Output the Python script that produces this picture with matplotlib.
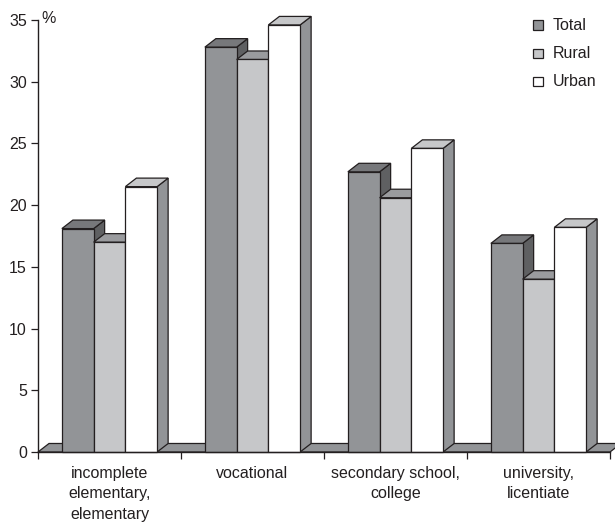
import matplotlib
matplotlib.use("Agg")
import matplotlib.pyplot as plt
from matplotlib.patches import Polygon, Rectangle

# Share of respondents by education level (%)
categories = ["incomplete\nelementary,\nelementary", "vocational",
              "secondary school,\ncollege", "university,\nlicentiate"]
series_names = ["Total", "Rural", "Urban"]
total = [18.1, 32.8, 22.7, 16.9]
rural = [17.0, 31.8, 20.6, 14.0]
urban = [21.5, 34.6, 24.6, 18.2]
yticks = [0, 5, 10, 15, 20, 25, 30, 35]

series_values = [total, rural, urban]
# (front, top, side) shades for each series
shades = [("#929497", "#77787b", "#5f6062"),
          ("#c6c7c9", "#9a9b9e", "#929497"),
          ("#ffffff", "#c6c7c9", "#929497")]
edge = "#231f20"
fs = 11.5

plt.rcParams["font.family"] = ["Liberation Sans", "DejaVu Sans"]

fig = plt.figure(figsize=(6.15, 5.23), dpi=100)
ax = fig.add_axes([38 / 615, 71 / 523, 572 / 615, 432 / 523])
ax.set_xlim(0, len(categories))
ax.set_ylim(0, 35)

# pseudo-3D depth offsets in data units
ddx = 0.077
ddy = 0.69
bar_w = 0.222

# floor slab
floor = Polygon([(0, 0), (ddx, ddy), (len(categories) + ddx, ddy), (len(categories), 0)],
                closed=True, facecolor="#929497", edgecolor=edge, lw=0.9, clip_on=False, zorder=2)
ax.add_patch(floor)

for i in range(len(categories)):
    x0 = i + 0.5 - 1.5 * bar_w
    for s, vals in enumerate(series_values):
        h = vals[i]
        xl = x0 + s * bar_w
        xr = xl + bar_w
        front_c, top_c, side_c = shades[s]
        z = 3 + i * 3 + s
        ax.add_patch(Polygon([(xr, 0), (xr + ddx, ddy), (xr + ddx, h + ddy), (xr, h)],
                             closed=True, facecolor=side_c, edgecolor=edge, lw=0.9,
                             clip_on=False, zorder=z))
        ax.add_patch(Polygon([(xl, h), (xl + ddx, h + ddy), (xr + ddx, h + ddy), (xr, h)],
                             closed=True, facecolor=top_c, edgecolor=edge, lw=0.9,
                             clip_on=False, zorder=z))
        ax.add_patch(Rectangle((xl, 0), bar_w, h, facecolor=front_c, edgecolor=edge,
                               lw=0.9, clip_on=False, zorder=z))

for side in ("top", "right"):
    ax.spines[side].set_visible(False)
for side in ("left", "bottom"):
    ax.spines[side].set_color(edge)
    ax.spines[side].set_linewidth(1.0)
    ax.spines[side].set_zorder(30)

ax.set_yticks(yticks)
ax.set_yticklabels([str(t) for t in yticks], fontsize=fs, color=edge)
ax.tick_params(axis="y", direction="out", length=5, width=0.9, pad=3, color=edge)

ax.set_xticks(range(len(categories) + 1))
ax.set_xticklabels([])
ax.tick_params(axis="x", which="major", direction="out", length=5, width=0.9, color=edge)
ax.set_xticks([i + 0.5 for i in range(len(categories))], minor=True)
ax.set_xticklabels(categories, minor=True, fontsize=fs, linespacing=1.45, color=edge)
ax.tick_params(axis="x", which="minor", length=0, pad=10)

ax.text(0.025, 35.1, "%", ha="left", va="center", fontsize=fs, color=edge)

# legend
leg_y = [25, 53.3, 81.7]
for s, name in enumerate(series_names):
    yc = 1 - leg_y[s] / 523
    sq = 9.5
    fig.patches.append(Rectangle((533 / 615, yc - sq / 2 / 523), sq / 615, sq / 523,
                                 transform=fig.transFigure, facecolor=shades[s][0],
                                 edgecolor=edge, lw=0.9))
    fig.text(553 / 615, yc, name, ha="left", va="center", fontsize=fs, color=edge)

fig.savefig("out.png", dpi=100)
